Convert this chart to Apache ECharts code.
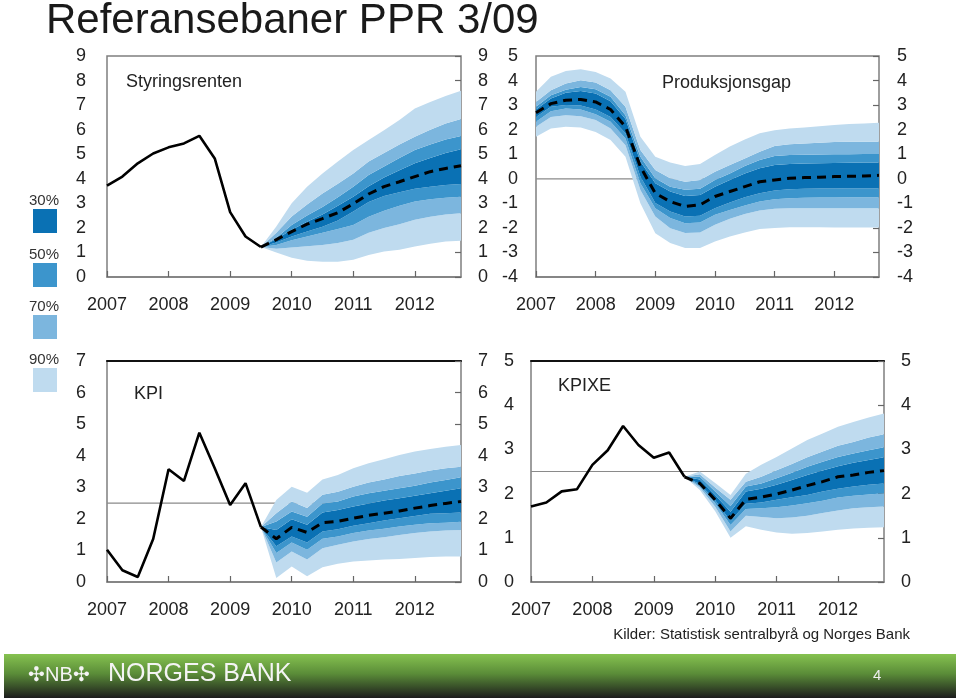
<!DOCTYPE html>
<html><head><meta charset="utf-8">
<script src="https://cdn.jsdelivr.net/npm/echarts/dist/echarts.min.js"></script>
<style>html,body{margin:0;padding:0;background:#fff}#c{width:960px;height:698px}</style>
</head><body><div id="c"></div>
<script>
// ---------- categories ----------
const quarters = ["2007K1","2007K2","2007K3","2007K4","2008K1","2008K2","2008K3","2008K4",
  "2009K1","2009K2","2009K3","2009K4","2010K1","2010K2","2010K3","2010K4",
  "2011K1","2011K2","2011K3","2011K4","2012K1","2012K2","2012K3","2012K4"];
const bandLabels = ["30%","50%","70%","90%"];
const _ = null;

// reference levels (horizontal guide lines)
const gapRef = 0;
const kpiRef = 2.5;
const kpixeRef = 2.5;

// ---------- Styringsrenten ----------
const rateHist = [3.72,4.09,4.63,5.03,5.28,5.44,5.75,4.83,2.64,1.65,1.22,_,_,_,_,_,_,_,_,_,_,_,_,_];
const rateProj = [_,_,_,_,_,_,_,_,_,_,1.22,1.52,1.85,2.15,2.38,2.62,2.98,3.38,3.68,3.88,4.09,4.29,4.42,4.53];
const rateHi90 = [_,_,_,_,_,_,_,_,_,_,1.22,2.06,3.00,3.68,4.22,4.70,5.17,5.58,5.98,6.39,6.86,7.13,7.37,7.58];
const rateHi70 = [_,_,_,_,_,_,_,_,_,_,1.22,1.80,2.46,2.95,3.40,3.80,4.22,4.70,5.05,5.40,5.71,6.00,6.25,6.43];
const rateHi50 = [_,_,_,_,_,_,_,_,_,_,1.22,1.60,2.12,2.50,2.85,3.25,3.68,4.15,4.50,4.85,5.17,5.40,5.60,5.74];
const rateHi30 = [_,_,_,_,_,_,_,_,_,_,1.22,1.55,1.92,2.25,2.55,2.90,3.27,3.70,4.05,4.35,4.63,4.85,5.05,5.20];
const rateLo30 = [_,_,_,_,_,_,_,_,_,_,1.22,1.40,1.65,1.85,2.05,2.30,2.67,3.05,3.30,3.45,3.59,3.68,3.75,3.79];
const rateLo50 = [_,_,_,_,_,_,_,_,_,_,1.22,1.30,1.50,1.65,1.80,1.95,2.12,2.45,2.70,2.90,3.07,3.17,3.23,3.27];
const rateLo70 = [_,_,_,_,_,_,_,_,_,_,1.22,1.15,1.20,1.25,1.30,1.38,1.52,1.80,2.00,2.15,2.33,2.45,2.55,2.60];
const rateLo90 = [_,_,_,_,_,_,_,_,_,_,1.22,1.00,0.78,0.66,0.62,0.62,0.70,0.90,1.04,1.11,1.24,1.35,1.45,1.48];

// ---------- Produksjonsgap ----------
const gapProj = [2.69,3.06,3.20,3.23,3.13,2.82,2.12,0.49,-0.59,-0.93,-1.13,-1.06,-0.72,-0.52,-0.32,-0.12,-0.05,0.02,0.05,0.06,0.09,0.10,0.11,0.14];
const gapHi90 = [3.54,4.15,4.39,4.46,4.35,4.08,3.54,1.71,0.90,0.66,0.52,0.60,0.97,1.31,1.60,1.85,1.98,2.05,2.09,2.14,2.19,2.23,2.25,2.28];
const gapHi70 = [3.13,3.61,3.88,4.01,3.92,3.61,2.93,1.17,0.36,0.02,-0.12,-0.05,0.29,0.56,0.83,1.10,1.33,1.41,1.44,1.47,1.50,1.51,1.51,1.51];
const gapHi50 = [2.93,3.40,3.63,3.74,3.65,3.34,2.59,0.90,0.02,-0.32,-0.45,-0.41,-0.05,0.22,0.52,0.76,0.93,0.97,0.98,0.99,1.00,1.00,1.01,1.01];
const gapHi30 = [2.82,3.27,3.50,3.57,3.47,3.16,2.43,0.70,-0.18,-0.52,-0.70,-0.66,-0.32,-0.05,0.22,0.43,0.56,0.60,0.62,0.63,0.64,0.65,0.66,0.66];
const gapLo30 = [2.52,2.93,3.00,2.98,2.82,2.52,1.85,0.09,-0.99,-1.33,-1.54,-1.51,-1.20,-0.97,-0.75,-0.59,-0.48,-0.43,-0.41,-0.40,-0.40,-0.39,-0.39,-0.39];
const gapLo50 = [2.32,2.75,2.86,2.82,2.63,2.32,1.64,-0.18,-1.20,-1.60,-1.81,-1.78,-1.47,-1.27,-1.09,-0.93,-0.83,-0.79,-0.77,-0.76,-0.76,-0.75,-0.75,-0.75];
const gapLo70 = [2.12,2.52,2.59,2.55,2.39,2.05,1.37,-0.46,-1.54,-2.01,-2.21,-2.19,-1.87,-1.63,-1.43,-1.29,-1.22,-1.20,-1.20,-1.20,-1.20,-1.20,-1.20,-1.20];
const gapLo90 = [1.71,2.05,2.12,2.09,1.91,1.58,0.90,-1.00,-2.22,-2.62,-2.82,-2.82,-2.55,-2.35,-2.19,-2.05,-2.00,-1.97,-1.97,-1.97,-1.98,-1.98,-1.98,-1.98];

// ---------- KPI ----------
const kpiHist = [1.02,0.37,0.16,1.36,3.57,3.20,4.73,3.60,2.44,3.13,1.74,_,_,_,_,_,_,_,_,_,_,_,_,_];
const kpiProj = [_,_,_,_,_,_,_,_,_,_,1.74,1.37,1.73,1.57,1.88,1.92,2.02,2.11,2.18,2.25,2.34,2.42,2.49,2.55];
const kpiHi90 = [_,_,_,_,_,_,_,_,_,_,1.74,2.60,3.02,2.83,3.25,3.39,3.60,3.76,3.89,4.02,4.13,4.21,4.28,4.34];
const kpiHi70 = [_,_,_,_,_,_,_,_,_,_,1.74,2.18,2.55,2.34,2.76,2.86,3.02,3.15,3.25,3.36,3.44,3.53,3.60,3.65];
const kpiHi50 = [_,_,_,_,_,_,_,_,_,_,1.74,1.92,2.23,2.07,2.49,2.55,2.71,2.81,2.89,2.97,3.05,3.15,3.23,3.32];
const kpiHi30 = [_,_,_,_,_,_,_,_,_,_,1.74,1.65,1.99,1.81,2.20,2.28,2.39,2.49,2.58,2.65,2.73,2.81,2.89,2.97];
const kpiLo30 = [_,_,_,_,_,_,_,_,_,_,1.74,1.13,1.44,1.25,1.60,1.67,1.78,1.86,1.95,2.02,2.09,2.16,2.18,2.20];
const kpiLo50 = [_,_,_,_,_,_,_,_,_,_,1.74,0.92,1.25,1.02,1.37,1.44,1.55,1.63,1.69,1.76,1.81,1.86,1.88,1.91];
const kpiLo70 = [_,_,_,_,_,_,_,_,_,_,1.74,0.62,0.97,0.71,1.07,1.18,1.28,1.36,1.42,1.49,1.55,1.60,1.63,1.65];
const kpiLo90 = [_,_,_,_,_,_,_,_,_,_,1.74,0.13,0.49,0.18,0.47,0.58,0.65,0.68,0.71,0.73,0.76,0.79,0.81,0.81];

// ---------- KPIXE ----------
const kpixeHist = [1.71,1.80,2.05,2.10,2.65,2.98,3.53,3.10,2.81,2.93,2.38,_,_,_,_,_,_,_,_,_,_,_,_,_];
const kpixeProj = [_,_,_,_,_,_,_,_,_,_,2.38,2.23,1.86,1.44,1.87,1.92,1.99,2.08,2.18,2.27,2.38,2.42,2.48,2.52];
const kpixeHi90 = [_,_,_,_,_,_,_,_,_,_,2.38,2.50,2.24,1.97,2.45,2.65,2.83,3.02,3.21,3.36,3.51,3.62,3.72,3.81];
const kpixeHi70 = [_,_,_,_,_,_,_,_,_,_,2.38,2.44,2.14,1.86,2.27,2.38,2.53,2.67,2.82,2.95,3.08,3.17,3.27,3.34];
const kpixeHi50 = [_,_,_,_,_,_,_,_,_,_,2.38,2.38,2.05,1.72,2.16,2.23,2.35,2.47,2.61,2.72,2.83,2.91,2.98,3.05];
const kpixeHi30 = [_,_,_,_,_,_,_,_,_,_,2.38,2.32,1.97,1.59,2.05,2.11,2.20,2.31,2.42,2.52,2.62,2.70,2.76,2.82];
const kpixeLo30 = [_,_,_,_,_,_,_,_,_,_,2.38,2.22,1.85,1.38,1.77,1.80,1.86,1.92,1.97,2.05,2.11,2.16,2.20,2.23];
const kpixeLo50 = [_,_,_,_,_,_,_,_,_,_,2.38,2.18,1.78,1.29,1.65,1.67,1.69,1.73,1.78,1.84,1.91,1.95,1.98,2.01];
const kpixeLo70 = [_,_,_,_,_,_,_,_,_,_,2.38,2.14,1.70,1.14,1.50,1.47,1.44,1.46,1.50,1.56,1.62,1.67,1.69,1.71];
const kpixeLo90 = [_,_,_,_,_,_,_,_,_,_,2.38,2.08,1.60,1.00,1.26,1.18,1.12,1.09,1.11,1.14,1.18,1.21,1.23,1.24];

// ---------- styling ----------
const C30 = '#0a71b4', C50 = '#3c95cc', C70 = '#7cb6de', C90 = '#bfdbef';
const FONT = '"Liberation Sans", Arial, sans-serif';
const AX = '#222';

const panels = [
  {title:'Styringsrenten', tl:[126,73], grid:{left:107, top:56, width:354, height:221}, min:0, max:9,
   hist:rateHist, proj:rateProj, ref:null, topBlack:false,
   bands:[rateLo90,rateLo70,rateLo50,rateLo30,rateHi30,rateHi50,rateHi70,rateHi90], lm:21, rm:17},
  {title:'Produksjonsgap', tl:[662,74], grid:{left:536, top:56, width:343, height:221}, min:-4, max:5,
   hist:null, proj:gapProj, ref:gapRef, topBlack:false,
   bands:[gapLo90,gapLo70,gapLo50,gapLo30,gapHi30,gapHi50,gapHi70,gapHi90], lm:18, rm:18},
  {title:'KPI', tl:[134,385], grid:{left:107, top:361, width:354, height:221}, min:0, max:7,
   hist:kpiHist, proj:kpiProj, ref:kpiRef, topBlack:true,
   bands:[kpiLo90,kpiLo70,kpiLo50,kpiLo30,kpiHi30,kpiHi50,kpiHi70,kpiHi90], lm:21, rm:17},
  {title:'KPIXE', tl:[558,377], grid:{left:531, top:361, width:353, height:221}, min:0, max:5,
   hist:kpixeHist, proj:kpixeProj, ref:kpixeRef, topBlack:true,
   bands:[kpixeLo90,kpixeLo70,kpixeLo50,kpixeLo30,kpixeHi30,kpixeHi50,kpixeHi70,kpixeHi90], lm:17, rm:17}
];

const grids = [], xAxes = [], yAxes = [], series = [], titles = [];
const dash = v => v == null ? '-' : v;
const diff = (a, b) => a.map((v, i) => (v == null || b[i] == null) ? '-' : +(v - b[i]).toFixed(3));
const layerColors = [C90, C70, C50, C30, C50, C70, C90];

titles.push({text:'Referansebaner PPR 3/09', left:46, top:0, padding:0,
  textStyle:{fontFamily:FONT, fontSize:42, fontWeight:'normal', color:'#1a1a1a'}});

panels.forEach((p, g) => {
  grids.push(Object.assign({show:true, borderColor:'#7f7f7f', borderWidth:1.5, backgroundColor:'transparent'}, p.grid));
  titles.push({text:p.title, left:p.tl[0], top:p.tl[1], padding:0,
    textStyle:{fontFamily:FONT, fontSize:18, fontWeight:'normal', color:AX}});
  const yi = yAxes.length;
  yAxes.push({type:'value', gridIndex:g, min:p.min, max:p.max, interval:1, position:'left',
    axisLine:{show:false, onZero:false}, axisTick:{show:false}, splitLine:{show:false},
    axisLabel:{margin:p.lm, fontFamily:FONT, fontSize:18, color:AX}});
  yAxes.push({type:'value', gridIndex:g, min:p.min, max:p.max, interval:1, position:'right',
    axisLine:{show:false, onZero:false}, splitLine:{show:false},
    axisTick:{show:true, inside:true, length:6, lineStyle:{color:'#666', width:1.2}},
    axisLabel:{margin:p.rm, fontFamily:FONT, fontSize:18, color:AX}});
  const xi = xAxes.length;
  xAxes.push({type:'category', gridIndex:g, data:quarters, boundaryGap:false, position:'bottom',
    axisLine:{show:true, onZero:false, lineStyle:{color:'#7f7f7f', width:1.5}},
    axisTick:{show:true, inside:true, interval:3, length:6, lineStyle:{color:'#666', width:1.2}},
    axisLabel:{interval:3, margin:19, fontFamily:FONT, fontSize:18, color:AX, formatter:v => v.slice(0,4)},
    splitLine:{show:false}});
  if (p.topBlack) {
    xAxes.push({type:'category', gridIndex:g, data:quarters, boundaryGap:false, position:'top',
      axisLine:{show:true, onZero:false, lineStyle:{color:'#111', width:2}}, axisTick:{show:false}, axisLabel:{show:false}});
  }

  if (p.ref != null) {
    series.push({type:'line', xAxisIndex:xi, yAxisIndex:yi, data:quarters.map(() => p.ref),
      symbol:'none', silent:true, z:1, lineStyle:{color:'#8a8a8a', width:1.2}});
  }
  const stack = 'fan' + g;
  series.push({type:'line', xAxisIndex:xi, yAxisIndex:yi, stack, stackStrategy:'all',
    data:p.bands[0].map(dash), symbol:'none', lineStyle:{width:0, opacity:0}, z:2, silent:true});
  for (let k = 1; k < 8; k++) {
    series.push({type:'line', xAxisIndex:xi, yAxisIndex:yi, stack, stackStrategy:'all',
      data:diff(p.bands[k], p.bands[k-1]), symbol:'none', silent:true,
      lineStyle:{width:0, opacity:0}, areaStyle:{color:layerColors[k-1], opacity:1}, z:2});
  }
  if (p.hist) {
    series.push({type:'line', xAxisIndex:xi, yAxisIndex:yi, data:p.hist.map(dash), symbol:'none',
      lineStyle:{color:'#000', width:2.6}, z:5, silent:true});
  }
  series.push({type:'line', xAxisIndex:xi, yAxisIndex:yi, data:p.proj.map(dash), symbol:'none',
    lineStyle:{color:'#000', width:3, type:[9,6]}, z:6, silent:true});
});

// legend (graphic)
const legendY = [209, 263, 315, 368];
const legendColors = [C30, C50, C70, C90];
const graphic = [];
bandLabels.forEach((t, i) => {
  graphic.push({type:'rect', left:33, top:legendY[i], shape:{width:24, height:24}, style:{fill:legendColors[i]}});
  graphic.push({type:'text', left:29, top:legendY[i]-16, style:{text:t, font:'15px ' + FONT, fill:'#333'}});
});
// footer
graphic.push({type:'text', right:50, top:627, style:{text:'Kilder: Statistisk sentralbyrå og Norges Bank', font:'15px ' + FONT, fill:'#222'}});
graphic.push({type:'rect', left:4, top:654, shape:{width:952, height:44},
  style:{fill:new echarts.graphic.LinearGradient(0,0,0,1,[{offset:0,color:'#86c250'},{offset:0.45,color:'#5a8c38'},{offset:1,color:'#1c1c1c'}])}});
graphic.push({type:'text', left:28, top:665, style:{text:'✣NB✣', font:'20px ' + FONT, fill:'#f4f4f4'}});
graphic.push({type:'text', left:108, top:662, style:{text:'NORGES BANK', font:'25px ' + FONT, fill:'#f4f4f4'}});
graphic.push({type:'text', left:873, top:668, style:{text:'4', font:'15px ' + FONT, fill:'#eee'}});

const chart = echarts.init(document.getElementById('c'), null, {renderer:'canvas'});
chart.setOption({animation:false, backgroundColor:'#fff', title:titles, grid:grids,
  xAxis:xAxes, yAxis:yAxes, series, graphic});
</script></body></html>
